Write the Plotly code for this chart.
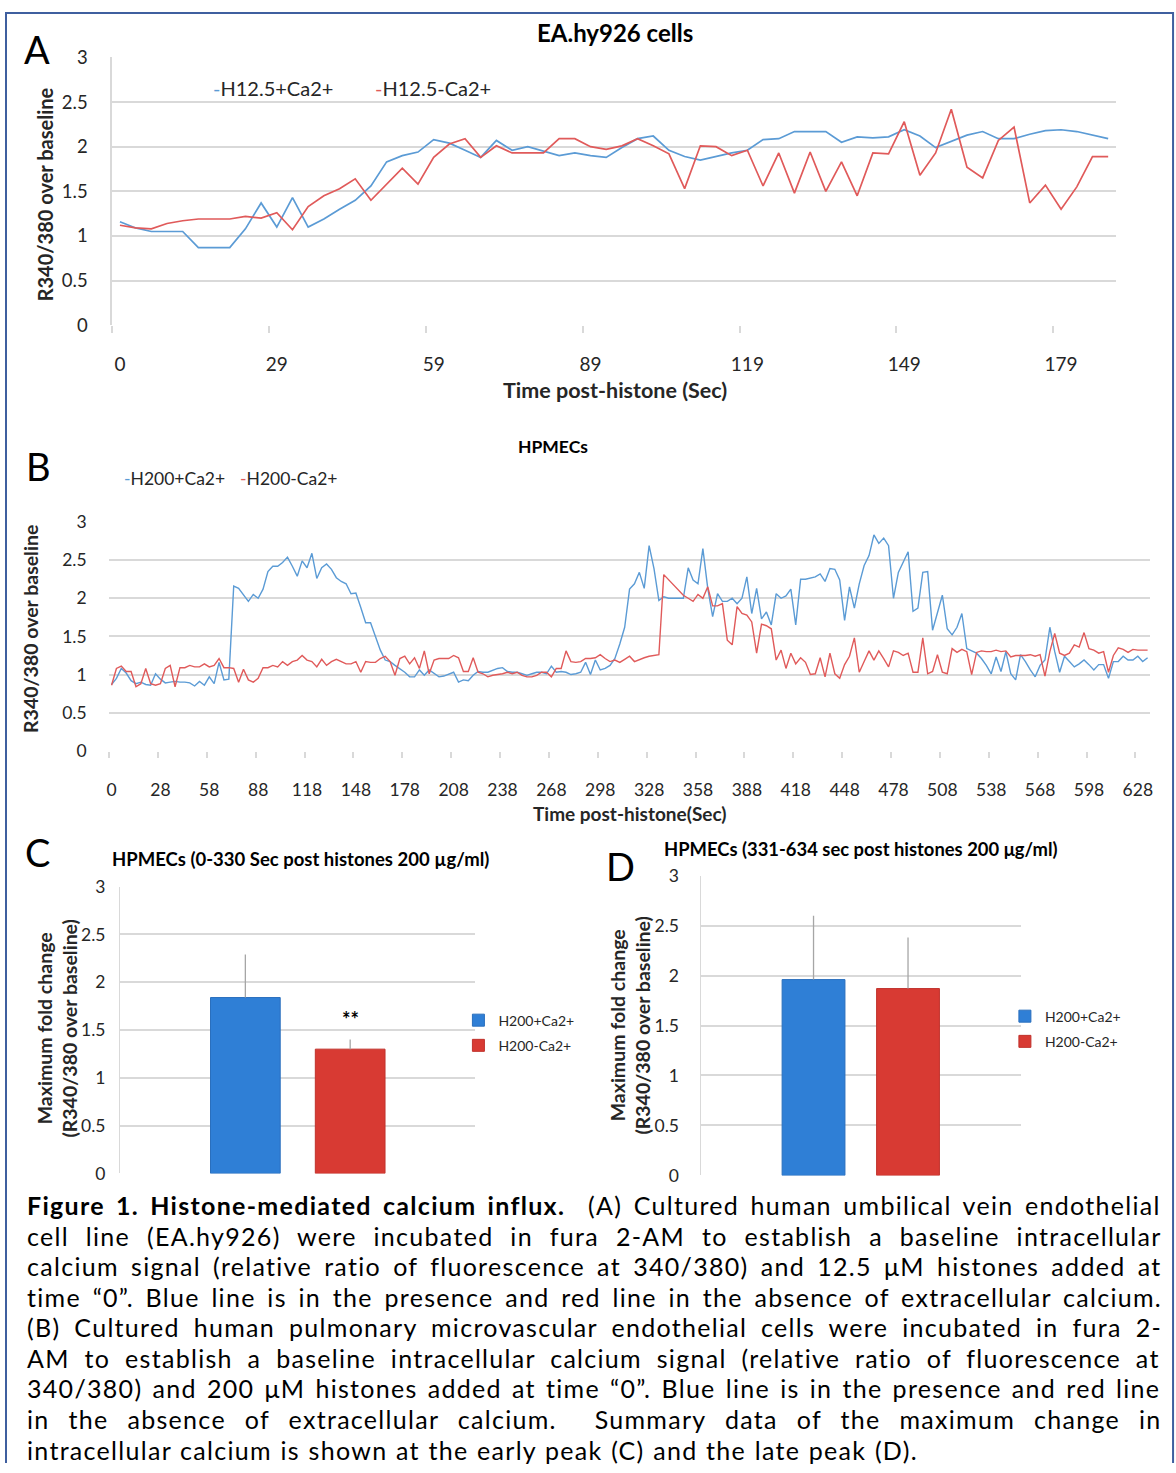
import plotly.graph_objects as go

W, H = 1176, 1473
# the page photograph maps figure pixels onto the picture with a slight shrink/offset;
# positions below are given in picture pixels and converted here
SX, OX = 0.994, 3.0
SY, OY = 0.986, 12.5


def X(px):
    return ((px - OX) / SX) / W


def Y(py):
    return 1 - ((py - OY) / SY) / H


FONT = "Lato, 'Open Sans', sans-serif"
TXT = "#262626"
GRID = "#d9d9d9"
BLUE_LINE = "#5b9bd5"
RED_LINE = "#e05a5a"
BLUE_BAR = "#2f7fd6"
RED_BAR = "#d83a33"

# ---------------- Panel A data (EA.hy926 cells) ----------------
A_TICKS = ["0", "29", "59", "89", "119", "149", "179"]
A_SERIES = ["H12.5+Ca2+", "H12.5-Ca2+"]
A_BLUE = [
    1.16, 1.09, 1.05, 1.05, 1.05, 0.87, 0.87, 0.87, 1.08, 1.37,
    1.10, 1.43, 1.10, 1.19, 1.30, 1.40, 1.56, 1.83, 1.90, 1.94,
    2.08, 2.04, 1.96, 1.88, 2.07, 1.96, 2.00, 1.95, 1.90, 1.93,
    1.90, 1.88, 1.99, 2.09, 2.12, 1.96, 1.89, 1.85, 1.89, 1.93,
    1.96, 2.08, 2.09, 2.17, 2.17, 2.17, 2.05, 2.11, 2.10, 2.11,
    2.19, 2.12, 1.99, 2.06, 2.13, 2.17, 2.09, 2.09, 2.14, 2.18,
    2.19, 2.17, 2.13, 2.09,
]
A_RED = [
    1.12, 1.09, 1.08, 1.14, 1.17, 1.19, 1.19, 1.19, 1.22, 1.20,
    1.26, 1.07, 1.33, 1.45, 1.53, 1.64, 1.40, 1.58, 1.76, 1.58,
    1.88, 2.03, 2.09, 1.88, 2.01, 1.93, 1.93, 1.93, 2.09, 2.09,
    2.00, 1.97, 2.01, 2.09, 2.01, 1.92, 1.53, 2.01, 2.00, 1.90,
    1.96, 1.56, 1.93, 1.48, 1.94, 1.50, 1.83, 1.45, 1.93, 1.92,
    2.28, 1.68, 1.93, 2.42, 1.77, 1.65, 2.07, 2.22, 1.37, 1.57,
    1.30, 1.55, 1.89, 1.89,
]

# ---------------- Panel B data (HPMECs) ----------------
B_TICKS = ["0", "28", "58", "88", "118", "148", "178", "208", "238", "268", "298",
           "328", "358", "388", "418", "448", "478", "508", "538", "568", "598", "628"]
B_SERIES = ["H200+Ca2+", "H200-Ca2+"]
B_BLUE = [
    0.87, 0.95, 1.08, 1.02, 0.92, 0.88, 0.90, 0.87, 0.86, 1.01,
    0.94, 0.89, 0.90, 0.91, 0.90, 0.90, 0.89, 0.85, 0.91, 0.86,
    0.97, 0.88, 1.16, 0.93, 0.94, 2.16, 2.13, 2.04, 1.96, 2.05,
    2.00, 2.12, 2.35, 2.42, 2.42, 2.47, 2.54, 2.42, 2.29, 2.49,
    2.40, 2.59, 2.26, 2.40, 2.45, 2.38, 2.27, 2.22, 2.19, 2.06,
    2.07, 1.88, 1.68, 1.68, 1.49, 1.32, 1.19, 1.17, 1.12, 1.08,
    1.03, 0.97, 0.97, 1.06, 0.99, 1.06, 1.01, 0.97, 0.98, 1.00,
    1.03, 0.90, 0.93, 0.92, 0.99, 1.04, 1.03, 1.03, 1.06, 1.08,
    1.09, 1.04, 1.03, 1.03, 1.01, 0.99, 1.01, 1.03, 1.03, 1.01,
    1.11, 1.03, 1.04, 1.03, 1.00, 1.01, 1.03, 1.16, 1.00, 1.19,
    1.06, 1.08, 1.12, 1.21, 1.40, 1.62, 2.12, 2.19, 2.34, 2.13,
    2.69, 2.39, 1.97, 2.02, 2.00, 2.00, 2.00, 2.00, 2.40, 2.24,
    2.19, 2.65, 2.13, 1.76, 2.06, 1.96, 1.96, 2.00, 1.93, 2.00,
    2.28, 1.80, 2.13, 1.73, 1.82, 1.65, 2.06, 2.00, 2.03, 2.12,
    1.65, 2.25, 2.25, 2.27, 2.28, 2.32, 2.22, 2.39, 2.38, 2.24,
    1.71, 2.15, 1.87, 2.19, 2.43, 2.56, 2.83, 2.72, 2.79, 2.69,
    2.00, 2.34, 2.48, 2.61, 1.83, 1.87, 2.34, 2.35, 1.58, 1.80,
    2.04, 1.60, 1.52, 1.62, 1.80, 1.34, 1.31, 1.28, 1.21, 1.12,
    1.01, 1.23, 1.04, 1.30, 1.01, 0.93, 1.26, 1.17, 1.06, 0.97,
    1.12, 1.19, 1.62, 1.30, 1.03, 1.24, 1.17, 1.10, 1.14, 1.19,
    1.13, 1.06, 1.13, 1.13, 0.95, 1.17, 1.17, 1.24, 1.19, 1.19,
    1.24, 1.17, 1.22,
]
B_RED = [
    0.86, 1.08, 1.11, 1.04, 1.04, 0.84, 0.88, 1.08, 0.88, 0.86,
    0.88, 1.08, 1.12, 0.84, 1.09, 1.09, 1.12, 1.10, 1.10, 1.14,
    1.10, 1.12, 1.21, 1.09, 1.09, 1.08, 0.90, 1.07, 0.93, 0.90,
    0.95, 1.09, 1.09, 1.12, 1.10, 1.17, 1.12, 1.17, 1.19, 1.25,
    1.19, 1.17, 1.10, 1.20, 1.12, 1.17, 1.20, 1.17, 1.14, 1.14,
    1.17, 1.03, 1.17, 1.16, 1.16, 1.21, 1.24, 1.17, 0.99, 1.21,
    1.24, 1.14, 1.22, 1.08, 1.31, 1.01, 1.19, 1.21, 1.21, 1.21,
    1.25, 1.22, 1.04, 1.04, 1.22, 1.03, 1.01, 0.97, 0.99, 1.00,
    1.01, 1.03, 1.01, 1.03, 0.99, 0.97, 0.97, 0.99, 1.03, 1.03,
    0.97, 1.08, 1.08, 1.31, 1.17, 1.16, 1.17, 1.21, 1.21, 1.22,
    1.26, 1.21, 1.17, 1.19, 1.16, 1.20, 1.24, 1.17, 1.20, 1.22,
    1.24, 1.25, 1.26, 2.31, 2.24, 2.17, 2.11, 2.04, 2.00, 1.96,
    2.05, 2.00, 2.15, 1.90, 1.90, 1.93, 1.45, 1.39, 1.89, 1.80,
    1.78, 1.69, 1.28, 1.66, 1.64, 1.60, 1.19, 1.32, 1.08, 1.28,
    1.14, 1.22, 1.16, 1.00, 1.01, 1.22, 0.97, 1.28, 1.01, 0.95,
    1.13, 1.24, 1.48, 1.03, 1.17, 1.31, 1.19, 1.31, 1.21, 1.10,
    1.31, 1.29, 1.25, 1.28, 1.03, 1.03, 1.48, 1.01, 1.04, 1.26,
    1.03, 1.01, 1.34, 1.29, 1.33, 1.30, 1.00, 1.29, 1.31, 1.30,
    1.30, 1.32, 1.30, 1.31, 1.23, 1.25, 1.25, 1.25, 1.26, 1.24,
    1.26, 0.98, 1.30, 1.54, 1.28, 1.25, 1.28, 1.39, 1.36, 1.55,
    1.34, 1.32, 1.28, 1.30, 1.03, 1.25, 1.35, 1.33, 1.29, 1.33,
    1.32, 1.32, 1.32,
]

# ---------------- Panels C and D data (bar summaries) ----------------
BAR_SERIES = ["H200+Ca2+", "H200-Ca2+"]
BAR_CATEGORY = ["peak"]
C_MEANS = [1.84, 1.30]
C_ERR_PLUS = [0.45, 0.10]
D_MEANS = [1.96, 1.87]
D_ERR_PLUS = [0.64, 0.51]
C_SIG_LABEL = "**"
C_SIG_Y = 1.62

BARGAP = 0.41
BARGROUPGAP = 0.335

NB = "\u00a0"
CAPTION_LINES = [
    "<b>Figure 1. Histone-mediated calcium influx.</b>" + NB + " (A) Cultured human umbilical vein endothelial",
    "cell line (EA.hy926) were incubated in fura 2-AM to establish a baseline intracellular",
    "calcium signal (relative ratio of fluorescence at 340/380) and 12.5 μM histones added at",
    "time “0”. Blue line is in the presence and red line in the absence of extracellular calcium.",
    "(B) Cultured human pulmonary microvascular endothelial cells were incubated in fura 2-",
    "AM to establish a baseline intracellular calcium signal (relative ratio of fluorescence at",
    "340/380) and 200 μM histones added at time “0”. Blue line is in the presence and red line",
    "in the absence of extracellular calcium." + NB + " Summary data of the maximum change in",
    "intracellular calcium is shown at the early peak (C) and the late peak (D).",
]
# extra word spacing (px) per caption line, to mimic the justified paragraph
CAPTION_WORD_SPACING = [3.75, 9.2, 4.5, 4.0, 6.25, 7.1, 2.45, 11.25, 0.9]

fig = go.Figure()

# Panel A lines
fig.add_trace(go.Scatter(x=list(range(len(A_BLUE))), y=A_BLUE, mode="lines", name=A_SERIES[0],
                         line=dict(color=BLUE_LINE, width=1.7), xaxis="x", yaxis="y", showlegend=False))
fig.add_trace(go.Scatter(x=list(range(len(A_RED))), y=A_RED, mode="lines", name=A_SERIES[1],
                         line=dict(color=RED_LINE, width=1.7), xaxis="x", yaxis="y", showlegend=False))

# Panel B lines
fig.add_trace(go.Scatter(x=list(range(len(B_BLUE))), y=B_BLUE, mode="lines", name=B_SERIES[0],
                         line=dict(color=BLUE_LINE, width=1.4), xaxis="x2", yaxis="y2", showlegend=False))
fig.add_trace(go.Scatter(x=list(range(len(B_RED))), y=B_RED, mode="lines", name=B_SERIES[1],
                         line=dict(color=RED_LINE, width=1.4), xaxis="x2", yaxis="y2", showlegend=False))

# Panels C and D bars
bar_cols = [BLUE_BAR, RED_BAR]
bar_edges = ["#2a6fbd", "#c0322c"]
for k in range(2):
    fig.add_trace(go.Bar(
        x=BAR_CATEGORY, y=[C_MEANS[k]], name=BAR_SERIES[k], xaxis="x3", yaxis="y3",
        marker=dict(color=bar_cols[k], line=dict(color=bar_edges[k], width=1)),
        error_y=dict(type="data", symmetric=False, array=[C_ERR_PLUS[k]], arrayminus=[0],
                     color="#a6a6a6", thickness=1.3, width=0),
        legend="legend", legendgroup="c%d" % k))
for k in range(2):
    fig.add_trace(go.Bar(
        x=BAR_CATEGORY, y=[D_MEANS[k]], name=BAR_SERIES[k], xaxis="x4", yaxis="y4",
        marker=dict(color=bar_cols[k], line=dict(color=bar_edges[k], width=1)),
        error_y=dict(type="data", symmetric=False, array=[D_ERR_PLUS[k]], arrayminus=[0],
                     color="#a6a6a6", thickness=1.3, width=0),
        legend="legend2", legendgroup="d%d" % k))


def line_yaxis(dom, size, ticklen):
    return dict(domain=dom, range=[0, 3], tick0=0, dtick=0.5, showgrid=True, gridcolor=GRID,
                gridwidth=1.5, zeroline=False, ticks="outside", ticklen=ticklen,
                tickcolor="rgba(0,0,0,0)", tickfont=dict(size=size, color=TXT))


a_tickvals = [i for i in range(0, len(A_BLUE), 10)]
b_tickvals = [i for i in range(0, len(B_BLUE), 10)]

layout = dict(
    width=W, height=H, margin=dict(l=0, r=0, t=0, b=0),
    paper_bgcolor="white", plot_bgcolor="white",
    font=dict(family=FONT, color=TXT),
    barmode="group", bargap=BARGAP, bargroupgap=BARGROUPGAP,
    xaxis=dict(domain=[X(112), X(1115)], range=[-0.5, len(A_BLUE) - 0.5], anchor="y",
               tickmode="array", tickvals=a_tickvals, ticktext=A_TICKS,
               ticks="outside", ticklen=22, tickcolor="rgba(0,0,0,0)",
               tickfont=dict(size=19, color=TXT), showgrid=False, zeroline=False, showline=False,
               minor=dict(tickmode="array", tickvals=[v - 0.5 for v in a_tickvals], ticks="outside",
                          ticklen=7, tickcolor=GRID, tickwidth=1.5, showgrid=False)),
    yaxis=dict(**line_yaxis([Y(326), Y(58)], 18.5, 19), anchor="x",
               showline=True, linecolor=GRID, linewidth=1.5),
    xaxis2=dict(domain=[X(109), X(1149)], range=[-0.5, len(B_BLUE) - 0.5], anchor="y2",
                tickmode="array", tickvals=b_tickvals, ticktext=B_TICKS,
                ticks="outside", ticklen=23, tickcolor="rgba(0,0,0,0)",
                tickfont=dict(size=17.5, color=TXT), showgrid=False, zeroline=False, showline=False,
                minor=dict(tickmode="array", tickvals=[v - 0.5 for v in b_tickvals], ticks="outside",
                           ticklen=6, tickcolor=GRID, tickwidth=1.5, showgrid=False)),
    yaxis2=dict(**line_yaxis([Y(752), Y(523)], 17.5, 18), anchor="x2", showline=False),
    xaxis3=dict(domain=[X(120), X(475)], anchor="y3", type="category", range=[-0.5, 0.5],
                showticklabels=False, ticks="", showgrid=False, zeroline=False, showline=False),
    yaxis3=dict(**line_yaxis([Y(1175), Y(888)], 17.5, 10), anchor="x3",
                showline=True, linecolor=GRID, linewidth=1.2),
    xaxis4=dict(domain=[X(700), X(1020)], anchor="y4", type="category", range=[-0.5, 0.5],
                showticklabels=False, ticks="", showgrid=False, zeroline=False, showline=False),
    yaxis4=dict(**line_yaxis([Y(1177), Y(877)], 17.5, 17), anchor="x4",
                showline=True, linecolor=GRID, linewidth=1.2),
    legend=dict(x=X(458), y=Y(1006), xanchor="left", yanchor="top", font=dict(size=14, color=TXT),
                bgcolor="rgba(0,0,0,0)", tracegroupgap=4, itemwidth=30),
    legend2=dict(x=X(1004), y=Y(1002), xanchor="left", yanchor="top", font=dict(size=14, color=TXT),
                 bgcolor="rgba(0,0,0,0)", tracegroupgap=4, itemwidth=30),
)
fig.update_layout(**layout)

ann = []


def text(x, y, s, size, bold=False, color="#000000", xanchor="center", angle=0):
    ann.append(dict(x=X(x), y=Y(y), xref="paper", yref="paper", text=("<b>%s</b>" % s) if bold else s,
                    showarrow=False, xanchor=xanchor, yanchor="middle", textangle=angle,
                    font=dict(family=FONT, size=size, color=color)))


# panel letters
text(37, 50, "A", 38)
text(38, 467, "B", 38)
text(37, 853, "C", 38)
text(620, 867, "D", 38)

# titles
text(614, 33, "EA.hy926 cells", 24, bold=True)
text(553, 447, "HPMECs", 17.5, bold=True)
text(300, 860, "HPMECs (0-330 Sec post histones 200 µg/ml)", 18.5, bold=True)
text(860, 850, "HPMECs (331-634 sec post histones 200 μg/ml)", 18.4, bold=True)

# axis titles
text(614, 391, "Time post-histone (Sec)", 21.5, bold=True, color=TXT)
text(629, 815, "Time post-histone(Sec)", 19, bold=True, color=TXT)
text(45, 195, "R340/380 over baseline", 20, bold=True, color=TXT, angle=-90)
text(31, 630, "R340/380 over baseline", 19.5, bold=True, color=TXT, angle=-90)
text(56, 1030, "Maximum fold change<br>(R340/380 over baseline)", 19.5, bold=True, color=TXT, angle=-90)
text(628.5, 1027, "Maximum fold change<br>(R340/380 over baseline)", 19.5, bold=True, color=TXT, angle=-90)

# line legends (Excel style short dash)
text(211, 89, "<span style='color:%s'>-</span>%s" % (BLUE_LINE, A_SERIES[0]), 20, color=TXT, xanchor="left")
text(373, 89, "<span style='color:%s'>-</span>%s" % (RED_LINE, A_SERIES[1]), 20, color=TXT, xanchor="left")
text(122, 479, "<span style='color:%s'>-</span>%s" % (BLUE_LINE, B_SERIES[0]), 17.5, color=TXT, xanchor="left")
text(238, 479, "<span style='color:%s'>-</span>%s" % (RED_LINE, B_SERIES[1]), 17.5, color=TXT, xanchor="left")

# significance mark above red bar in C
ann.append(dict(x=(1 - BARGAP) / 4, y=C_SIG_Y, xref="x3", yref="y3", text="<b>%s</b>" % C_SIG_LABEL,
                showarrow=False, xanchor="center", yanchor="middle",
                font=dict(family=FONT, size=20, color="#000000")))

# caption (justified look via word spacing)
for i, line in enumerate(CAPTION_LINES):
    styled = "<span style='letter-spacing:1.3px;word-spacing:%.2fpx'>%s</span>" % (CAPTION_WORD_SPACING[i], line)
    text(25, 1207 + 30.55 * i, styled, 25, color="#000000", xanchor="left")

fig.update_layout(annotations=ann)

# page frame: left, top and right edges
top = min(Y(11), 1 - 1.0 / H)
bot = 0.0
fig.update_layout(shapes=[dict(type="path", xref="paper", yref="paper",
                               path="M %f,%f L %f,%f L %f,%f L %f,%f" % (X(6), bot, X(6), top, X(1172), top, X(1172), bot),
                               line=dict(color="#3f5f9f", width=2), layer="above")])

POST = (
    "document.documentElement.style.margin='0';document.documentElement.style.padding='0';"
    "document.documentElement.style.overflow='hidden';"
    "document.body.style.margin='0';document.body.style.padding='0';document.body.style.overflow='hidden';"
    "var gd=document.getElementById('{plot_id}');gd.style.position='fixed';"
    "gd.style.left='0px';gd.style.top='0px';"
)
fig.write_html("out.html", config={"displayModeBar": False}, post_script=POST)
